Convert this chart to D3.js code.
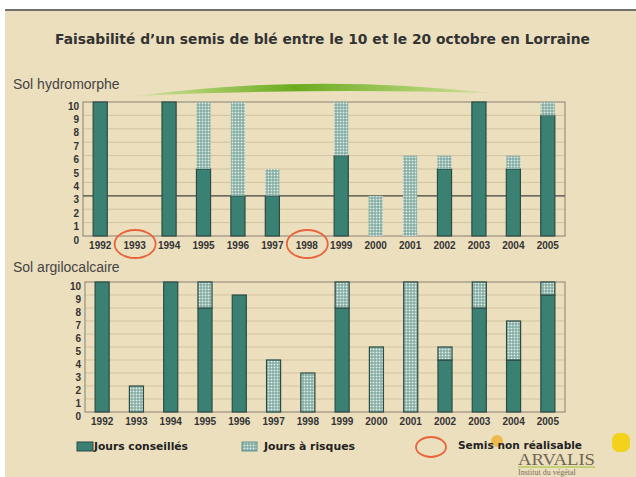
<!DOCTYPE html>
<html><head><meta charset="utf-8">
<script src="https://cdn.jsdelivr.net/npm/d3@7/dist/d3.min.js"></script>
<style>html,body{margin:0;padding:0;background:#fff;}svg{display:block;}</style>
</head><body>
<script>
const title = "Faisabilité d’un semis de blé entre le 10 et le 20 octobre en Lorraine";
const years = ["1992","1993","1994","1995","1996","1997","1998","1999","2000","2001","2002","2003","2004","2005"];
const hydroConseilles = [10,0,10,5,3,3,0,6,0,0,5,10,5,9];
const hydroRisques    = [0,0,0,5,7,2,0,4,3,6,1,0,1,1];
const argiloConseilles = [10,0,10,8,9,0,0,8,0,0,4,8,4,9];
const argiloRisques    = [0,2,0,2,0,4,3,2,5,10,1,2,3,1];
const nonRealisable = ["1993","1998"];
const yTicks = [0,1,2,3,4,5,6,7,8,9,10];
const legendLabels = ["Jours conseillés","Jours à risques","Semis non réalisable"];

const W=636,H=477;
const BG="#ecdfbe", TEAL="#3b8173", DARK="#2b4b45", GRID="#d3c39f", FRAME="#9c9080", ORANGE="#e8643c";
const svg=d3.select("body").append("svg").attr("width",W).attr("height",H);
const defs=svg.append("defs");
const pat=defs.append("pattern").attr("id","risk").attr("patternUnits","userSpaceOnUse").attr("width",3).attr("height",3);
pat.append("rect").attr("width",3).attr("height",3).attr("fill","#6a9d93");
pat.append("rect").attr("x",0.5).attr("y",0.5).attr("width",2).attr("height",2).attr("fill","#e3ece6");
const lg=defs.append("linearGradient").attr("id","arc");
lg.append("stop").attr("offset","0%").attr("stop-color","#d6e3a0");
lg.append("stop").attr("offset","45%").attr("stop-color","#6aac1e");
lg.append("stop").attr("offset","100%").attr("stop-color","#d2e29a");

svg.append("rect").attr("x",5).attr("y",10).attr("width",W-5).attr("height",H-10).attr("fill",BG);
svg.append("line").attr("x1",5).attr("x2",W).attr("y1",10).attr("y2",10).attr("stroke","#707070").attr("stroke-width",2);

svg.append("text").attr("x",55).attr("y",44).attr("textLength",535).attr("lengthAdjust","spacingAndGlyphs")
  .attr("font-family","DejaVu Sans").attr("font-weight","bold").attr("font-size",14).attr("fill","#333").text(title);

// green arc
svg.append("path").attr("d","M135,96 Q310,73 490,93 Q310,88 135,96 Z").attr("fill","url(#arc)");

function panel(cfg){
  const x=d3.scaleBand().domain(years).range([cfg.x0,cfg.x1]).paddingInner(0.59).paddingOuter(0.295);
  const y=d3.scaleLinear().domain([0,10]).range([cfg.y0,cfg.y1]);
  const g=svg.append("g");
  g.append("text").attr("x",13).attr("y",cfg.labelY).attr("font-family","Liberation Sans").attr("font-size",14).attr("fill","#444").text(cfg.label);
  g.selectAll(".grid").data(yTicks.filter(d=>d>0&&d<10)).join("line")
    .attr("x1",cfg.x0).attr("x2",cfg.x1).attr("y1",d=>y(d)).attr("y2",d=>y(d)).attr("stroke",GRID).attr("stroke-width",1);
  g.append("rect").attr("x",cfg.x0).attr("y",cfg.y1).attr("width",cfg.x1-cfg.x0).attr("height",cfg.y0-cfg.y1)
    .attr("fill","none").attr("stroke",FRAME).attr("stroke-width",1.2);
  if(cfg.refLine!=null){
    g.append("line").attr("x1",cfg.x0).attr("x2",cfg.x1).attr("y1",y(cfg.refLine)).attr("y2",y(cfg.refLine)).attr("stroke","#4a4a44").attr("stroke-width",1.3);
  }
  const yAxis=d3.axisLeft(y).tickValues(yTicks).tickSize(0).tickPadding(4);
  const ag=g.append("g").attr("transform",`translate(${cfg.x0},0)`).call(yAxis);
  ag.select(".domain").remove();
  ag.selectAll("text").attr("font-family","Liberation Sans").attr("font-weight","bold").attr("font-size",10).attr("fill","#333").attr("dy","0.7em");
  const xAxis=d3.axisBottom(x).tickSize(0).tickPadding(6);
  const xg=g.append("g").attr("transform",`translate(0,${cfg.y0})`).call(xAxis);
  xg.select(".domain").remove();
  xg.selectAll("text").attr("font-family","Liberation Sans").attr("font-weight","bold").attr("font-size",10).attr("fill","#333");
  const bw=x.bandwidth();
  g.selectAll(".c").data(years.map((yr,i)=>({yr,v:cfg.cons[i]})).filter(d=>d.v>0)).join("rect")
    .attr("x",d=>x(d.yr)).attr("y",d=>y(d.v)).attr("width",bw).attr("height",d=>y(0)-y(d.v))
    .attr("fill",TEAL).attr("stroke",DARK).attr("stroke-width",1.2);
  g.selectAll(".r").data(years.map((yr,i)=>({yr,b:cfg.cons[i],v:cfg.risk[i]})).filter(d=>d.v>0)).join("rect")
    .attr("x",d=>x(d.yr)).attr("y",d=>y(d.b+d.v)).attr("width",bw).attr("height",d=>y(d.b)-y(d.b+d.v))
    .attr("fill","url(#risk)").attr("stroke",cfg.riskStroke?DARK:"none").attr("stroke-width",1.2);
  if(cfg.circles){
    g.selectAll(".nr").data(nonRealisable).join("ellipse")
      .attr("cx",d=>x(d)+bw/2+0.5).attr("cy",cfg.y0+8).attr("rx",20.5).attr("ry",14)
      .attr("fill","none").attr("stroke",ORANGE).attr("stroke-width",1.8);
  }
}
panel({x0:83,x1:565,y0:236,y1:102,label:"Sol hydromorphe",labelY:89,cons:hydroConseilles,risk:hydroRisques,refLine:3,circles:true,riskStroke:false});
panel({x0:85,x1:565,y0:412,y1:282,label:"Sol argilocalcaire",labelY:272,cons:argiloConseilles,risk:argiloRisques,refLine:null,circles:false,riskStroke:true});

// legend
const lgF={"font-family":"DejaVu Sans","font-weight":"bold","font-size":11,"fill":"#222"};
function txt(x,y,s,tl){const t=svg.append("text").attr("x",x).attr("y",y).text(s);for(const k in lgF)t.attr(k,lgF[k]);if(tl)t.attr("textLength",tl).attr("lengthAdjust","spacingAndGlyphs");return t;}
svg.append("rect").attr("x",77).attr("y",442).attr("width",16).attr("height",9).attr("fill",TEAL).attr("stroke",DARK);
txt(94,450,legendLabels[0],94);
svg.append("rect").attr("x",242).attr("y",442).attr("width",15).attr("height",9).attr("fill","url(#risk)").attr("stroke","#5d8f86");
txt(264,450,legendLabels[1],91);
svg.append("ellipse").attr("cx",431).attr("cy",447).attr("rx",15).attr("ry",10).attr("fill","none").attr("stroke",ORANGE).attr("stroke-width",1.8);

// logos (decorative)
svg.append("circle").attr("cx",497).attr("cy",441).attr("r",6).attr("fill","#f0b030").attr("opacity",0.8);
svg.append("text").attr("x",518).attr("y",465).attr("font-family","Liberation Serif").attr("font-size",16).attr("fill","#6f6650").attr("textLength",77).attr("lengthAdjust","spacingAndGlyphs").text("ARVALIS");
svg.append("line").attr("x1",518).attr("x2",595).attr("y1",467).attr("y2",467).attr("stroke","#b8c860").attr("stroke-width",1.5);
svg.append("text").attr("x",518).attr("y",475).attr("font-family","Liberation Serif").attr("font-size",8).attr("fill","#7a7060").text("Institut du végétal");
svg.append("rect").attr("x",612).attr("y",433).attr("width",18).attr("height",19).attr("rx",7).attr("fill","#f2d21a");
txt(458,449,legendLabels[2],124);
</script>
</body></html>
